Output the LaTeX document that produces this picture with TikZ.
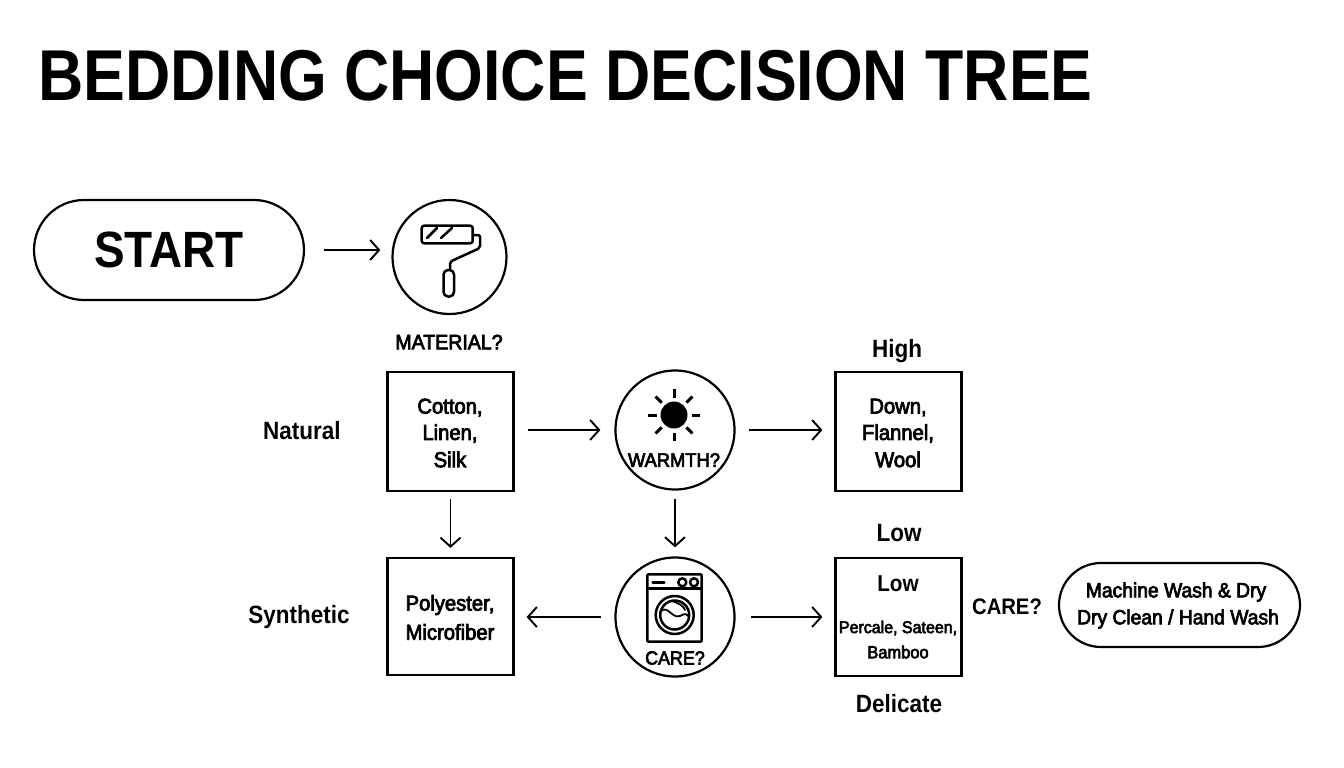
\documentclass[tikz,border=0pt]{standalone}
\usepackage{fontspec}
\setmainfont{Liberation Sans}
\newfontfamily\bd[FakeStretch=0.94,FakeBold=3.5]{Liberation Sans}
\newfontfamily\hv[FakeStretch=0.87]{Liberation Sans Bold}
\newfontfamily\lb[FakeStretch=0.9]{Liberation Sans Bold}
\usetikzlibrary{arrows.meta,shapes.misc}
\newcommand{\fs}[1]{\fontsize{#1}{#1}\selectfont}
\tikzset{
 x=1pt,y=-1pt,
 line/.style={draw=black,line width=2.2pt},
 boxn/.style={line,minimum width=126pt,inner sep=0pt,align=center},
 circn/.style={line,circle,inner sep=0pt},
 pill/.style={line,rounded rectangle,inner sep=0pt},
 arr/.style={line width=1.9pt,-{Straight Barb[length=9pt,width=20pt,line width=1.9pt]}},
 icon/.style={line width=2.5pt,line join=round,line cap=round},
 txt/.style={inner sep=0pt,align=center,font=\bd\fs{21.5}},
 lab/.style={inner sep=0pt,align=center,font=\lb\fs{25}},
}
\begin{document}
\begin{tikzpicture}
\useasboundingbox (0,0) rectangle (1344,768);
\fill[white] (0,0) rectangle (1344,768);
\node[inner sep=0pt,anchor=west,font=\hv\fs{72}] (title) at (38,76) {BEDDING CHOICE DECISION TREE};
\node[pill,minimum width=270pt,minimum height=100pt,font=\lb\fs{51}] (start) at (169,250) {START};
\node[circn,minimum size=114pt] (c1) at (449.5,257) {};
\node[txt,font=\bd\fs{20.8}] (mat) at (449,342) {MATERIAL?};
\node[boxn,minimum height=119pt] (b1) at (450.5,431.5) {};
\node[circn,minimum size=119pt] (c2) at (675,430) {};
\node[boxn,minimum height=119pt] (b2) at (898.5,431.5) {};
\node[boxn,minimum height=117pt] (b3) at (450.5,616.5) {};
\node[circn,minimum size=119pt] (c3) at (675,617) {};
\node[boxn,minimum height=118pt] (b4) at (898.5,617) {};
\node[pill,minimum width=241pt,minimum height=84pt] (p) at (1179.5,605) {};
% arrows
\draw[arr,shorten <=19pt,shorten >=11pt] (start) -- (start -| c1.west);
\draw[arr,shorten <=13pt,shorten >=14pt] (b1.east |- c2) -- (c2);
\draw[arr,shorten <=13pt,shorten >=12pt] (c2) -- (c2 -| b2.west);
\draw[arr,shorten <=7pt,shorten >=9pt] (b1) -- (b3);
\draw[arr,shorten <=8pt,shorten >=9pt] (c2) -- (c3);
\draw[arr,shorten <=13pt,shorten >=12pt] (c3) -- (c3 -| b3.east);
\draw[arr,shorten <=15pt,shorten >=12pt] (c3) -- (c3 -| b4.west);
% box texts
\node[txt] (t1a) at (450,407.5) {Cotton,};
\node[txt] (t1b) at (450,433.5) {Linen,};
\node[txt] (t1c) at (450,459.5) {Silk};
\node[txt] (t2a) at (898,407.5) {Down,};
\node[txt] (t2b) at (898,433.5) {Flannel,};
\node[txt] (t2c) at (898,459.5) {Wool};
\node[txt] (t3a) at (450,605) {Polyester,};
\node[txt] (t3b) at (450,632) {Microfiber};
\node[lab,font=\lb\fs{23}] (t4a) at (898,584) {Low};
\node[txt,font=\bd\fs{17}] (t4b) at (898,628) {Percale, Sateen,};
\node[txt,font=\bd\fs{17.5}] (t4c) at (898,652) {Bamboo};
\node[txt,font=\bd\fs{20.5}] (p1) at (1176,592) {Machine Wash \& Dry};
\node[txt,font=\bd\fs{20.5}] (p2) at (1178,619) {Dry Clean / Hand Wash};
\node[lab] (natural) at (302,431) {Natural};
\node[lab] (synth) at (299,617) {Synthetic};
\node[lab] (high) at (897,351) {High};
\node[lab] (low) at (899,533) {Low};
\node[lab] (deli) at (899,704) {Delicate};
\node[lab,font=\lb\fs{22.5}] (care) at (1007,607) {CARE?};
\node[txt,font=\bd\fs{19.5}] (warm) at (674,460) {WARMTH?};
\node[txt,font=\bd\fs{19}] (care2) at (675,658) {CARE?};
% roller icon
\draw[icon,rounded corners=2.5pt] (421.7,225.7) rectangle (472.7,243.3);
\draw[icon] (427,238) -- (437,228) (441,238) -- (452,228);
\draw[icon,rounded corners=2pt] (472.7,235) -- (480,235) -- (480,248) -- (450,261.7) -- (450,270);
\draw[icon,rounded corners=4.5pt] (443.5,270) rectangle (454,296.5);
% sun icon
\fill (674,415) circle (13.5);
\foreach \a in {0,45,...,315}
  \draw[icon,line width=3pt,line cap=butt] (674,415) ++(\a:17.5) -- ++(\a:8.5);
% washer icon
\draw[icon,rounded corners=1pt] (647.3,574.3) rectangle (701.7,641.7);
\draw[icon] (647.3,588.3) -- (701.7,588.3);
\draw[icon] (652.7,582.3) -- (664.3,582.3);
\draw[icon] (682.3,582.3) circle (4) (694,582.3) circle (4);
\draw[icon] (674.7,615) circle (19) (674.7,615) circle (14.5);
\draw[icon,line width=1.8pt] (661,611) .. controls (668,605) and (672,619) .. (680,616) .. controls (684,614) and (686,613) .. (688,616);
\draw[icon,line width=1.8pt] (672,601) .. controls (678,603) and (684,606) .. (685,610);
\end{tikzpicture}
\end{document}
